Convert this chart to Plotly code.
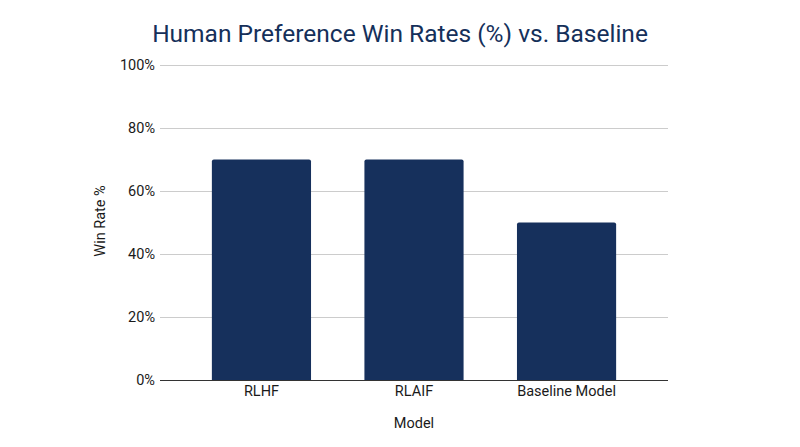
import plotly.graph_objects as go

models = ['RLHF', 'RLAIF', 'Baseline Model']
win_rates = [70, 70, 50]

fig = go.Figure()
fig.add_trace(go.Bar(
    x=models,
    y=win_rates,
    width=0.65,
    marker=dict(color='#16305c', cornerradius=2, line=dict(width=0)),
    name='Win Rate %'
))

fig.update_layout(
    width=800, height=447,
    margin=dict(l=152, r=140, t=54, b=75),
    paper_bgcolor='white',
    plot_bgcolor='white',
    font=dict(family='Roboto', size=14.5, color='#1a1a1a'),
    title=dict(text='Human Preference Win Rates (%) vs. Baseline',
               x=0.49, xanchor='center', y=0.944, yanchor='middle',
               font=dict(family='Roboto', size=24.5, color='#15305a')),
    showlegend=False,
    xaxis=dict(
        range=[-0.665, 2.665],
        title=dict(text='Model', font=dict(size=14.5), standoff=19),
        showgrid=False, ticks='', showline=False,
    ),
    yaxis=dict(
        range=[0, 101],
        tickvals=[0, 20, 40, 60, 80, 100],
        ticktext=['0%', '20%', '40%', '60%', '80%', '100%'],
        title=dict(text='Win Rate %', font=dict(size=14.5), standoff=10),
        gridcolor='#cccccc', gridwidth=1,
        zeroline=True, zerolinecolor='#333333', zerolinewidth=1,
        ticks='', ticklabelstandoff=4,
    ),
)

fig.write_html('out.html')
